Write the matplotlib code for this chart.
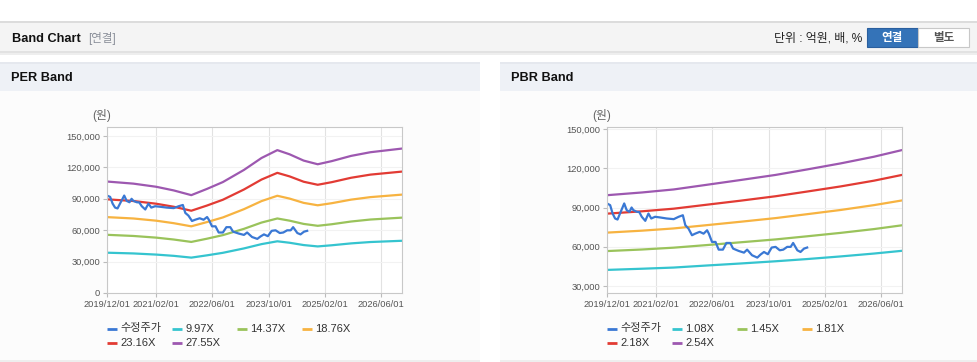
import numpy as np
import matplotlib.pyplot as plt
from matplotlib.patches import Rectangle

plt.rcParams['font.family'] = ['Liberation Sans', 'Noto Sans CJK KR', 'DejaVu Sans']

# x axis is month offset from 2019/12
tick_months = [0, 14, 30, 46, 62, 78]
tick_labels = ['2019/12/01', '2021/02/01', '2022/06/01', '2023/10/01', '2025/02/01', '2026/06/01']

# adjusted share price (수정주가)
price_month = [0.0, 0.9, 1.6, 2.3, 3.0, 3.7, 4.9, 5.6, 6.4, 7.0, 7.5, 8.5, 9.2, 9.9, 10.9, 11.8,
               12.6, 13.7, 15.1, 17.0, 19.0, 20.4, 21.6, 22.3, 23.2, 24.2, 25.1, 26.4, 27.5, 28.5,
               29.0, 29.9, 30.9, 31.8, 33.0, 34.0, 35.1, 35.9, 37.5, 39.0, 39.9, 41.3, 42.8, 43.7,
               44.7, 45.8, 46.9, 48.0, 49.2, 50.2, 51.3, 52.3, 53.0, 54.2, 55.1, 56.1, 57.0]
price_value = [93100, 91800, 85400, 81600, 80800, 85400, 93100, 88000, 86700, 90000, 88000, 86700,
               86500, 82900, 79800, 85400, 81600, 82900, 82400, 81600, 81100, 82900, 84100, 76500,
               73900, 68800, 70000, 71400, 70000, 72600, 70000, 63700, 63700, 57800, 57800, 62900,
               62900, 58600, 56800, 55500, 57800, 53500, 51700, 54000, 56000, 54300, 59400, 59900,
               57300, 57800, 59900, 59900, 62900, 57300, 56000, 58600, 59400]

# PER band
per_month = [0, 7.5, 14, 19, 24, 28.5, 33, 39, 44, 48.5, 52, 56, 60, 64, 69.5, 75, 84]
per_997 = [38500, 37800, 36700, 35500, 33800, 36000, 38400, 42600, 46700, 49400, 48000, 45800,
           44500, 45600, 47400, 48700, 49900]
per_1437 = [55600, 54500, 52900, 51100, 48800, 51900, 55300, 61300, 67300, 71200, 69100, 66000,
            64200, 65700, 68300, 70200, 72000]
per_1876 = [72500, 71200, 69100, 66700, 63700, 67800, 72200, 80100, 87800, 92900, 90200, 86100,
            83800, 85800, 89200, 91600, 94000]
per_2316 = [89500, 87900, 85300, 82400, 78600, 83600, 89100, 98900, 108400, 114800, 111400, 106300,
            103400, 105900, 110100, 113100, 116000]
per_2755 = [106500, 104500, 101500, 98000, 93500, 99500, 106000, 117600, 129000, 136500, 132500,
            126500, 123000, 126000, 131000, 134500, 138000]

# PBR band
pbr_month = [0, 10, 19, 28, 38, 48, 57, 66.5, 76, 84]
pbr_108 = [42300, 43200, 44100, 45600, 47200, 48900, 50600, 52600, 54800, 56900]
pbr_145 = [56700, 57900, 59300, 61200, 63400, 65600, 68000, 70600, 73500, 76400]
pbr_181 = [70800, 72300, 74000, 76400, 79100, 81900, 84900, 88100, 91800, 95400]
pbr_218 = [85300, 87100, 89100, 92000, 95200, 98600, 102200, 106100, 110500, 114900]
pbr_254 = [99400, 101500, 103800, 107200, 111000, 114900, 119100, 123700, 128800, 133900]

per_labels = ['9.97X', '14.37X', '18.76X', '23.16X', '27.55X']
pbr_labels = ['1.08X', '1.45X', '1.81X', '2.18X', '2.54X']
price_label = '수정주가'

price_color = '#3a78d4'
band_colors = ['#35c4cf', '#9ac35b', '#f7b341', '#e23b34', '#9d58b0']

W, H = 978, 362
fig = plt.figure(figsize=(W / 100, H / 100), dpi=100)
fig.patch.set_facecolor('white')

# page background drawn in pixel coordinates
bg = fig.add_axes([0, 0, 1, 1], zorder=0)
bg.set_xlim(0, W)
bg.set_ylim(H, 0)
bg.axis('off')


def rect(x, y, w, h, fc, ec='none', lw=0):
    bg.add_patch(Rectangle((x, y), w, h, facecolor=fc, edgecolor=ec, linewidth=lw))


# header bar
rect(0, 21, W, 2, '#dcdcdc')
rect(0, 23, W, 29, '#f4f4f4')
rect(0, 51, W, 2, '#e2e2e2')
rect(0, 53, W, 2, '#eeeeee')
bg.text(12, 38.5, 'Band Chart', fontsize=9.2, fontweight='bold', color='#111111', va='center')
bg.text(88, 38.5, '[연결]', fontsize=8.3, color='#8a8f99', va='center')
bg.text(862, 38.5, '단위 : 억원, 배, %', fontsize=8.6, color='#222222', va='center', ha='right')
rect(867, 28, 51, 19, '#3473b8', ec='#2a5f9e', lw=0.8)
rect(918, 28, 51, 19, '#ffffff', ec='#c8c8c8', lw=0.8)
bg.text(892.5, 37.5, '연결', fontsize=8.3, fontweight='bold', color='white', ha='center', va='center')
bg.text(943.5, 37.5, '별도', fontsize=8.3, fontweight='bold', color='#555555', ha='center', va='center')

# panels
for px0, pw, title in [(0, 480, 'PER Band'), (500, 478, 'PBR Band')]:
    rect(px0, 62, pw, 2, '#e5e8ee')
    rect(px0, 64, pw, 27, '#eef1f6')
    rect(px0, 91, pw, 269, '#fcfcfc')
    rect(px0, 360, pw, 2, '#eeeeee')
    bg.text(px0 + 11, 78, title, fontsize=9.2, fontweight='bold', color='#111111', va='center')


def make_chart(left, ylim, yticks, months, bands, labels, leg_x):
    ax = fig.add_axes([left / W, (H - 293) / H, 295 / W, 166 / H], zorder=2)
    ax.set_facecolor('white')
    for vals, c in zip(bands, band_colors):
        ax.plot(months, vals, color=c, lw=1.6, solid_joinstyle='round')
    ax.plot(price_month, price_value, color=price_color, lw=1.6, solid_joinstyle='round')
    ax.set_xlim(0, 84)
    ax.set_ylim(*ylim)
    ax.set_xticks(tick_months)
    ax.set_xticklabels(tick_labels)
    ax.set_yticks(yticks)
    ax.set_yticklabels([f'{v:,}' for v in yticks])
    ax.grid(axis='x', color='#e2e2e2', lw=0.8)
    ax.grid(axis='y', color='#f2f2f2', lw=0.8)
    ax.set_axisbelow(True)
    for s in ax.spines.values():
        s.set_color('#c8c8c8')
        s.set_linewidth(0.8)
    ax.tick_params(axis='both', colors='#bbbbbb', labelcolor='#555555', labelsize=6.7,
                   length=3, width=0.8, pad=2)

    # unit label
    bg.text(left - 5, 116, '(원)', fontsize=8.5, color='#666666', ha='center', va='center')

    # legend, row-major like the page
    items = [(price_label, price_color)] + list(zip(labels, band_colors))
    for i, (lab, c) in enumerate(items):
        x = leg_x + 65 * (i % 4)
        y = 328.5 if i < 4 else 343
        bg.plot([x, x + 10], [y, y], color=c, lw=2, solid_capstyle='butt')
        bg.text(x + 13, y, lab, fontsize=8, color='#333333', va='center')
    return ax


make_chart(107, (0, 158600), [0, 30000, 60000, 90000, 120000, 150000], per_month,
           [per_997, per_1437, per_1876, per_2316, per_2755], per_labels, 107)
make_chart(607, (24650, 151530), [30000, 60000, 90000, 120000, 150000], pbr_month,
           [pbr_108, pbr_145, pbr_181, pbr_218, pbr_254], pbr_labels, 607)

fig.savefig('out.png', dpi=100, facecolor='white')
